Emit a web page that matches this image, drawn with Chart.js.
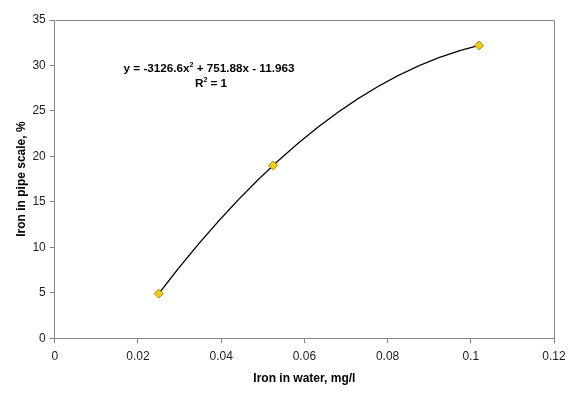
<!DOCTYPE html>
<html>
<head>
<meta charset="utf-8">
<script src="https://cdn.jsdelivr.net/npm/chart.js@4"></script>
<style>
html,body{margin:0;padding:0;background:#fff;}
#wrap{width:575px;height:394px;}
</style>
</head>
<body>
<div id="wrap"><canvas id="c" width="575" height="394"></canvas></div>
<script>
const ironWater = [0.025, 0.0525, 0.102];
const ironScale = [4.9, 19.0, 32.2];
const xTicks = [0, 0.02, 0.04, 0.06, 0.08, 0.1, 0.12];
const yTicks = [0, 5, 10, 15, 20, 25, 30, 35];
const equationText = "y = -3126.6x";
const equationRest = " + 751.88x - 11.963";
const rSquaredText = "R";
const rSquaredRest = " = 1";
const xTitle = "Iron in water, mg/l";
const yTitle = "Iron in pipe scale, %";

const points = ironWater.map((x, i) => ({x: x, y: ironScale[i]}));

const FONT = '"Liberation Sans", Arial, sans-serif';

// polynomial (order 2) trendline through the data points, drawn via the chart's scales
const trendline = {
  id: 'trendline',
  beforeDatasetsDraw(chart) {
    const {ctx, scales: {x: xs, y: ys}} = chart;
    const p = points.map(pt => [xs.getPixelForValue(pt.x), ys.getPixelForValue(pt.y)]);
    const [p0, p1, p2] = p;
    const t1 = (p1[0] - p0[0]) / (p2[0] - p0[0]);
    const cx = (p0[0] + p2[0]) / 2;
    const cy = (p1[1] - (1 - t1) * (1 - t1) * p0[1] - t1 * t1 * p2[1]) / (2 * t1 * (1 - t1));
    ctx.save();
    ctx.strokeStyle = '#000';
    ctx.lineWidth = 1.3;
    ctx.beginPath();
    ctx.moveTo(p0[0], p0[1]);
    ctx.quadraticCurveTo(cx, cy, p2[0], p2[1]);
    ctx.stroke();
    ctx.restore();
  }
};

const frame = {
  id: 'frame',
  afterDraw(chart) {
    const {ctx, chartArea: a} = chart;
    ctx.save();
    ctx.strokeStyle = '#868686';
    ctx.lineWidth = 1;
    ctx.beginPath();
    ctx.moveTo(Math.round(a.left) + 0.5, Math.round(a.top) + 0.5);
    ctx.lineTo(Math.round(a.right) + 0.5, Math.round(a.top) + 0.5);
    ctx.lineTo(Math.round(a.right) + 0.5, Math.round(a.bottom) + 0.5);
    ctx.stroke();
    // equation label
    const big = 'bold 11.7px ' + FONT;
    const small = 'bold 7px ' + FONT;
    ctx.fillStyle = '#000';
    ctx.textBaseline = 'alphabetic';
    ctx.font = big;
    const w1 = ctx.measureText(equationText).width;
    const w2 = ctx.measureText(equationRest).width;
    ctx.font = small;
    const ws = ctx.measureText('2').width;
    const total = w1 + ws + w2;
    const cx = a.left + (a.right - a.left) * 0.309;
    const y1 = a.top + 52;
    let x = cx - total / 2;
    ctx.font = big;
    ctx.fillText(equationText, x, y1);
    x += w1;
    ctx.font = small;
    ctx.fillText('2', x, y1 - 5);
    x += ws;
    ctx.font = big;
    ctx.fillText(equationRest, x, y1);
    // R^2
    const r1 = ctx.measureText(rSquaredText).width;
    const r2 = ctx.measureText(rSquaredRest).width;
    const rt = r1 + ws + r2;
    const y2 = y1 + 15;
    let rx = cx - rt / 2 + 2;
    ctx.fillText(rSquaredText, rx, y2);
    rx += r1;
    ctx.font = small;
    ctx.fillText('2', rx, y2 - 5);
    rx += ws;
    ctx.font = big;
    ctx.fillText(rSquaredRest, rx, y2);
    ctx.restore();
  }
};

new Chart(document.getElementById('c'), {
  type: 'scatter',
  data: {
    datasets: [
      {
        label: 'data',
        data: points,
        showLine: false,
        pointStyle: 'rectRot',
        pointRadius: 4.5,
        backgroundColor: '#F2CC1A',
        borderColor: '#A88A10',
        borderWidth: 1
      }
    ]
  },
  options: {
    responsive: false,
    animation: false,
    devicePixelRatio: 1,
    layout: {padding: {top: 20, right: 21, bottom: 8, left: 14}},
    plugins: {legend: {display: false}, tooltip: {enabled: false}},
    scales: {
      x: {
        type: 'linear',
        min: 0, max: 0.12,
        afterBuildTicks: (s) => { s.ticks = xTicks.map(v => ({value: v})); },
        ticks: {
          color: '#222',
          font: {family: FONT, size: 12},
          padding: 6,
          maxRotation: 0,
          callback: (v) => String(+v.toFixed(2))
        },
        grid: {display: true, drawOnChartArea: false, drawTicks: true, tickLength: 5, color: '#868686'},
        border: {display: true, color: '#868686'},
        title: {display: true, text: xTitle, color: '#000',
          font: {family: FONT, size: 12, weight: 'bold'}, padding: {top: 2, bottom: 0}}
      },
      y: {
        type: 'linear',
        min: 0, max: 35,
        afterBuildTicks: (s) => { s.ticks = yTicks.map(v => ({value: v})); },
        ticks: {
          color: '#222',
          font: {family: FONT, size: 12},
          padding: 4
        },
        grid: {display: true, drawOnChartArea: false, drawTicks: true, tickLength: 5, color: '#868686'},
        border: {display: true, color: '#868686'},
        title: {display: true, text: yTitle, color: '#000',
          font: {family: FONT, size: 12, weight: 'bold'}, padding: {top: 0, bottom: 0}}
      }
    }
  },
  plugins: [trendline, frame]
});
</script>
</body>
</html>
